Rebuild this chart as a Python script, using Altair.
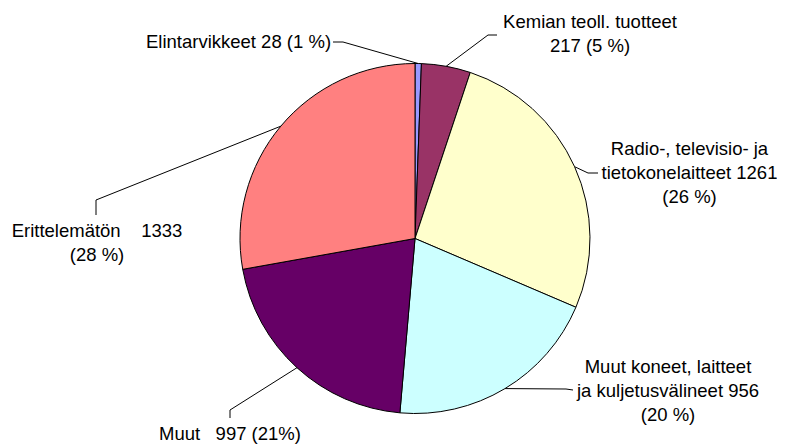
import math
import altair as alt
import pandas as pd

# ---- data ----
labels = ["Elintarvikkeet", "Kemian teoll. tuotteet", "Radio-, televisio- ja tietokonelaitteet",
          "Muut koneet, laitteet ja kuljetusvälineet", "Muut", "Erittelemätön"]
values = [28, 217, 1261, 956, 997, 1333]
label_texts = [
    "Elintarvikkeet 28 (1 %)",
    "Kemian teoll. tuotteet\n217 (5 %)",
    "Radio-, televisio- ja\ntietokonelaitteet 1261\n(26 %)",
    "Muut koneet, laitteet\nja kuljetusvälineet 956\n(20 %)",
    "Muut\u00a0\u00a0 997 (21%)",
    "Erittelemätön\u00a0\u00a0\u00a0 1333\n(28 %)",
]
colors = ["#9999FF", "#993366", "#FFFFCC", "#CCFFFF", "#660066", "#FF8080"]

# ---- layout (page pixel coordinates) ----
W, H = 769, 436
cx, cy, R = 415, 238.5, 175
text_pos = [(238.5, 48), (590, 28), (689.5, 155), (668, 373), (230, 440), (97, 237)]
elbows = [(343, 42), (488, 35), (588, 173), (566, 389), (230, 410), (96, 200)]
ends = [(333, 42), (497, 35), (598, 173), (573, 390), (230, 418), (96, 215)]

total = sum(values)
pie_df = pd.DataFrame({"label": labels, "value": values, "idx": list(range(len(values)))})

rows = []
cum = 0
for i, v in enumerate(values):
    a = (cum + v / 2) / total * 2 * math.pi
    cum += v
    ex, ey = cx + R * math.sin(a), cy - R * math.cos(a)
    for k, (px, py) in enumerate([(ex, ey), elbows[i], ends[i]]):
        rows.append({"label": labels[i], "seq": k, "x": px, "y": py})
line_df = pd.DataFrame(rows)

text_df = pd.DataFrame({
    "label": labels,
    "text": label_texts,
    "x": [p[0] for p in text_pos],
    "y": [p[1] for p in text_pos],
})

xs = alt.Scale(domain=[8, 8 + W], range=[0, W])
ys = alt.Scale(domain=[8, 8 + H], range=[0, H])

pie = alt.Chart(pie_df).mark_arc(radius=R, stroke="black", strokeWidth=1).encode(
    theta=alt.Theta("value:Q", stack=True),
    color=alt.Color("label:N", scale=alt.Scale(domain=labels, range=colors), legend=None),
    order=alt.Order("idx:Q"),
    x=alt.value(cx - 8),
    y=alt.value(cy - 8),
)

lines = alt.Chart(line_df).mark_line(color="black", strokeWidth=1).encode(
    x=alt.X("x:Q", scale=xs, axis=None),
    y=alt.Y("y:Q", scale=ys, axis=None),
    detail="label:N",
    order="seq:Q",
)

texts = alt.Chart(text_df).mark_text(
    font="Liberation Sans", fontSize=18.5, align="center", baseline="alphabetic",
    lineBreak="\n", lineHeight=24, color="black",
).encode(
    x=alt.X("x:Q", scale=xs, axis=None),
    y=alt.Y("y:Q", scale=ys, axis=None),
    text="text:N",
)

chart = alt.layer(pie, lines, texts).properties(
    width=W, height=H, padding=0, autosize=alt.AutoSizeParams(type="none"),
).configure_view(stroke=None)

chart.save("out.html", embed_options={"renderer": "svg", "actions": False})
